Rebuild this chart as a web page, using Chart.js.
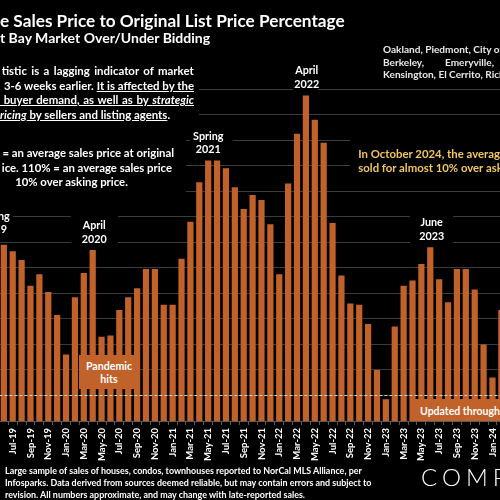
<!DOCTYPE html>
<html><head><meta charset="utf-8">
<script src="https://cdn.jsdelivr.net/npm/chart.js@4.4.1/dist/chart.umd.min.js"></script>
<style>
html,body{margin:0;padding:0;background:#000;width:500px;height:500px;overflow:hidden;}
body{position:relative;}
#wrap{position:absolute;left:-20px;top:0;width:540px;height:500px;}
.t{position:absolute;white-space:nowrap;font-family:Lato,'Open Sans',sans-serif;font-weight:700;color:#fff;line-height:1.2;}
.box{position:absolute;background:#000;}
.obox{position:absolute;background:#C1622B;}
u{text-underline-offset:1px;}
</style></head><body>
<div id="wrap"><canvas id="c"></canvas></div>
<div id="ov"></div>
<script>
// ---- data ----
const months = ['Jun-19','Jul-19','Aug-19','Sep-19','Oct-19','Nov-19','Dec-19',
 'Jan-20','Feb-20','Mar-20','Apr-20','May-20','Jun-20','Jul-20','Aug-20','Sep-20','Oct-20','Nov-20','Dec-20',
 'Jan-21','Feb-21','Mar-21','Apr-21','May-21','Jun-21','Jul-21','Aug-21','Sep-21','Oct-21','Nov-21','Dec-21',
 'Jan-22','Feb-22','Mar-22','Apr-22','May-22','Jun-22','Jul-22','Aug-22','Sep-22','Oct-22','Nov-22','Dec-22',
 'Jan-23','Feb-23','Mar-23','Apr-23','May-23','Jun-23','Jul-23','Aug-23','Sep-23','Oct-23','Nov-23','Dec-23',
 'Jan-24','Feb-24'];
const pctOfList = [111.8,111.3,110.6,108.6,109.5,108.1,106.3,
 103.2,107.7,109.6,111.4,104.6,104.7,106.7,107.7,108.4,109.9,109.9,107.1,
 107.1,110.7,113.6,116.7,118.4,118.4,117.8,116.3,114.6,115.7,115.3,113.4,
 109.5,116.6,120.5,123.5,121.6,119.8,113.5,109.4,107.2,107.1,105.6,102.0,
 99.7,105.4,108.6,109.0,110.3,111.6,109.1,107.3,109.9,109.9,108.3,104.0,
 101.4,106.7];
const yMin = 98, yMax = 124, yStep = 2, refLine = 100;

const dashPlugin = {
  id:'dash',
  afterDatasetsDraw(chart){
    const {ctx, chartArea, scales:{y}} = chart;
    const yy = Math.round(y.getPixelForValue(refLine)) + 0.5;
    ctx.save();
    ctx.strokeStyle = '#D0D0D0'; ctx.lineWidth = 1; ctx.setLineDash([3,2]);
    ctx.beginPath(); ctx.moveTo(chartArea.left, yy); ctx.lineTo(chartArea.right, yy); ctx.stroke();
    ctx.restore();
  }
};

new Chart(document.getElementById('c'), {
  type:'bar',
  data:{labels:months, datasets:[{data:pctOfList, backgroundColor:'#C1622B', barPercentage:0.7, categoryPercentage:1}]},
  options:{
    responsive:true, maintainAspectRatio:false, animation:false, devicePixelRatio:1,
    layout:{padding:{left:19.4, right:14.2, top:89, bottom:0}},
    plugins:{legend:{display:false}, tooltip:{enabled:false}},
    scales:{
      x:{
        offset:true,
        grid:{display:true, drawOnChartArea:false, drawTicks:true, tickLength:4, color:'#5a5a5a', offset:true},
        border:{display:true, color:'#5a5a5a'},
        ticks:{color:'#fff', font:{family:'Lato', weight:'bold', size:9.5}, minRotation:90, maxRotation:90,
               autoSkip:false, padding:3, callback:(v,i)=> i%2===1 ? months[i] : ''},
        afterFit:(s)=>{ s.height = 79; }
      },
      y:{
        min:yMin, max:yMax,
        ticks:{display:false, stepSize:yStep},
        grid:{color:'#3c3c3c', drawTicks:false},
        border:{display:false}
      }
    }
  },
  plugins:[dashPlugin]
});

// ---- overlay text ----
const ov = document.getElementById('ov');
const mctx = document.createElement('canvas').getContext('2d');
function fit(text, target, weight=700, style='normal'){
  mctx.font = `${style} ${weight} 100px Lato`;
  return 100 * target / mctx.measureText(text).width;
}
function rect(x1,y1,x2,y2,cls){
  const d=document.createElement('div'); d.className=cls;
  d.style.left=x1+'px'; d.style.top=y1+'px'; d.style.width=(x2-x1)+'px'; d.style.height=(y2-y1)+'px';
  ov.appendChild(d);
}
function put(html, o){
  const d=document.createElement('div'); d.className='t';
  d.style.fontSize=o.fs+'px';
  if(o.color) d.style.color=o.color;
  if(o.weight) d.style.fontWeight=o.weight;
  if(o.ls) d.style.letterSpacing=o.ls+'px';
  if(o.w){ d.style.width=o.w+'px'; d.style.textAlign='justify'; d.style.textAlignLast='justify'; }
  d.innerHTML = html + '<span style="display:inline-block;width:0;height:0;vertical-align:baseline"></span>';
  ov.appendChild(d);
  const r=d.getBoundingClientRect(), b=d.lastChild.getBoundingClientRect();
  const off=b.top-r.top;
  let left=o.x;
  if(o.align==='right') left=o.x-r.width;
  else if(o.align==='center') left=o.x-r.width/2;
  d.style.left=left+'px'; d.style.top=(o.base-off)+'px';
}

// background boxes hiding gridlines behind annotations
rect(-5,58,199,124,'box');
rect(-5,138,186,197,'box');
rect(-40,205,13,239,'box');
rect(71,207,118,248,'box');
rect(190,125,233,158,'box');
rect(293,60,318,91,'box');
rect(410,207,453,245,'box');
rect(350,138,505,180,'box');
rect(79,355,139,389,'obox');
rect(413,398.5,505,421,'obox');

// title
put('e Sales Price to Original List Price Percentage',{x:0,base:27,fs:fit('e Sales Price to Original List Price Percentage',345)});
put('t Bay Market Over/Under Bidding',{x:0,base:42.5,fs:fit('t Bay Market Over/Under Bidding',211)});

// block 1
const f1 = fit('ricing by sellers and listing agents.',172);
put('tistic is a lagging indicator of market',{x:1.7,base:75,fs:f1,w:192});
put('3-6 weeks earlier. <u>It is affected by the</u>',{x:4,base:89.5,fs:f1,w:190});
put('<u>&nbsp;buyer demand, as well as by <i>strategic</i></u>',{x:0,base:104,fs:f1,w:194});
put('<u><i>ricing</i> by sellers and listing agents</u>.',{x:0,base:118.5,fs:f1});

// block 2
const f2 = fit('10% over asking price.',113);
put('= an average sales price at original',{x:174,base:157,fs:f2,align:'right'});
put('ice. 110% = an average sales price',{x:172,base:171.5,fs:f2,align:'right'});
put('10% over asking price.',{x:71.5,base:186,fs:f2,align:'center'});

// top right
const f3 = fit('Oakland, Piedmont, City o',117);
put('Oakland, Piedmont, City of',{x:383,base:53,fs:f3,color:'#E8E8E8'});
put('Berkeley,',{x:383,base:66,fs:f3,color:'#E8E8E8'});
put('Emeryville,',{x:445,base:66,fs:f3,color:'#E8E8E8'});
put('Kensington, El Cerrito, Richmond',{x:383,base:78,fs:f3,color:'#E8E8E8'});

// gold note
const f4 = fit('In October 2024, the averag',142);
put('In October 2024, the average',{x:358.3,base:158,fs:f4,color:'#F2C661'});
put('sold for almost 10% over asking',{x:358.3,base:172,fs:f4,color:'#F2C661'});

// peak labels
const fl = fit('April',23);
[['Spring','2019',-5.5,219.5],['April','2020',94.3,229],['Spring','2021',208.3,139.5],
 ['April','2022',306.7,74],['June','2023',431.7,226]].forEach(([a,b,x,y])=>{
  put(a,{x:x,base:y,fs:fl,align:'center'});
  put(b,{x:x,base:y+13.8,fs:fl,align:'center'});
});
const fp = fit('Pandemic',46.3);
put('Pandemic',{x:109,base:370,fs:fp,align:'center'});
put('hits',{x:109,base:383,fs:fp,align:'center'});
put('Updated through',{x:420,base:414.5,fs:fit('Updated through',80)});

// footer
const f5 = fit('Infosparks. Data derived from sources deemed reliable, but may contain errors and subject to',367);
put('Large sample of sales of houses, condos, townhouses reported to NorCal MLS Alliance, per',{x:5,base:473.5,fs:f5});
put('Infosparks. Data derived from sources deemed reliable, but may contain errors and subject to',{x:5,base:485.5,fs:f5});
put('revision. All numbers approximate, and may change with late-reported sales.',{x:5,base:497.5,fs:f5});

// logo
put('COMPASS',{x:421,base:486,fs:24,weight:300,ls:5});
</script>
</body></html>
